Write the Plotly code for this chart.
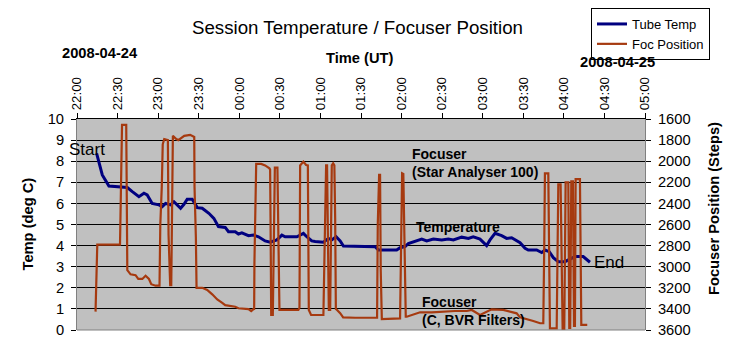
import pandas as pd
import plotly.graph_objects as go

# ---- data ----
session_start = "2008-04-24 22:00"
x_tick_start = "2008-04-24 22:00"
x_tick_end = "2008-04-25 05:00"

# Tube temperature: minutes after 22:00 UT, degrees C
temp_minutes = [14.5, 16.3, 18.7, 23.6, 32.2, 37.2, 40.9, 45.8, 49.5, 51.9, 55.6, 60.6,
                63.0, 65.5, 69.2, 71.7, 76.6, 79.1, 81.5, 85.2, 88.9, 92.6, 97.5, 101.2,
                104.6, 109.6, 112.0, 117.0, 119.4, 121.9, 126.8, 130.5, 134.2, 139.1,
                142.8, 147.8, 151.5, 153.9, 162.6, 167.4, 169.9, 173.6, 176.1, 182.2,
                185.9, 188.4, 191.6, 194.6, 197.0, 209.3, 220.4, 222.9, 236.4, 238.9,
                242.6, 245.0, 250.0, 254.9, 258.6, 263.5, 269.7, 274.6, 278.3, 284.5,
                289.4, 293.0, 298.0, 302.9, 305.4, 309.1, 314.0, 317.7, 321.4, 323.9,
                327.6, 331.3, 333.7, 339.9, 343.6, 346.0, 349.2, 352.2, 355.9, 360.8,
                365.8, 368.2, 374.3, 377.6, 379.3]
temp_values = [8.37, 7.98, 7.35, 6.82, 6.79, 6.75, 6.56, 6.32, 6.48, 6.40, 6.00, 5.93,
               5.85, 6.00, 5.93, 6.08, 5.77, 5.96, 6.20, 6.20, 5.80, 5.77, 5.53, 5.29,
               4.90, 4.86, 4.66, 4.66, 4.55, 4.60, 4.47, 4.50, 4.42, 4.22,
               4.16, 4.27, 4.50, 4.42, 4.42, 4.58, 4.42, 4.22, 4.19, 4.16,
               4.34, 4.27, 4.42, 4.22, 3.98, 3.98, 3.95, 3.79, 3.79, 3.90,
               3.95, 4.10, 4.19, 4.31, 4.22, 4.31, 4.27, 4.31, 4.27, 4.40,
               4.34, 4.42, 4.31, 4.00, 4.27, 4.58, 4.47, 4.34, 4.37, 4.27,
               4.14, 3.87, 3.79, 3.79, 3.67, 3.79, 3.71, 3.43, 3.24, 3.24,
               3.40, 3.48, 3.48, 3.32, 3.21]

# Focuser position: minutes after 22:00 UT, steps
foc_minutes = [13.7, 14.3, 15.0, 31.8, 32.2, 33.3, 36.4, 36.6, 37.2, 39.6, 43.3, 45.3,
               48.3, 50.7, 53.2, 54.9, 58.1, 61.0, 61.6, 62.7, 63.4, 64.5, 67.2, 67.7,
               68.9, 69.7, 70.2, 70.9, 73.4, 74.9, 79.3, 83.7, 86.7, 86.9, 87.9, 88.4,
               92.6, 96.3, 100.0, 103.7, 107.4, 109.6, 117.0, 119.4, 126.8, 128.8, 130.5,
               131.0, 131.2, 131.8, 132.5, 136.2, 139.1, 142.3, 142.8, 143.1, 143.6,
               144.8, 145.8, 146.3, 148.2, 148.7, 149.7, 163.7, 164.5, 165.0, 167.4,
               169.4, 170.7, 171.4, 173.1, 182.2, 183.0, 183.7, 184.2, 184.9, 185.5,
               186.2, 187.2, 187.7, 188.4, 189.4, 190.3, 190.9, 191.4, 192.3, 194.6,
               196.8, 205.6, 221.9, 222.4, 223.4, 224.1, 224.6, 225.4, 238.9, 239.6,
               240.4, 241.3, 242.4, 243.1, 243.8, 248.7, 253.7, 262.3, 269.7, 279.5,
               288.2, 291.9, 298.0, 306.6, 315.2, 321.4, 325.1, 327.6, 332.5, 337.4,
               342.4, 344.8, 345.5, 346.0, 348.5, 349.2, 349.7, 354.7, 355.3, 355.9,
               357.6, 358.4, 359.1, 360.3, 360.8, 361.3, 363.3, 364.0, 364.7, 365.5,
               366.7, 367.5, 368.2, 368.7, 371.9, 372.9, 377.3]
foc_steps = [3426, 3120, 2790, 2790, 2400, 1656, 1656, 2340, 3032, 3072, 3080, 3116,
             3116, 3086, 3116, 3166, 3180, 3180, 2600, 2240, 1840, 1790, 1800, 2700,
             3174, 3174, 2220, 1760, 1790, 1800, 1760, 1750, 1770, 2240, 2720, 3200,
             3200, 3220, 3262, 3310, 3342, 3364, 3380, 3394, 3402, 3420, 3402,
             3400, 2960, 2480, 2026, 2026, 2040, 2068, 2080, 2540, 3458,
             3458, 2540, 2060, 2060, 2540, 3410, 3410, 3390, 2040, 2004,
             2036, 2040, 3410, 3458, 3458, 3000, 2500, 2040, 2040, 2900,
             3410, 3410, 2500, 2040, 2020, 2040, 2540, 3400, 3410, 3440,
             3480, 3484, 3484, 2600, 2130, 2130, 3040, 3496, 3490, 2600,
             2114, 2120, 3040, 3474, 3474, 3452, 3432, 3432, 3426, 3420,
             3420, 3410, 3458, 3404, 3410, 3432, 3442, 3480, 3496, 3514,
             3536, 3536, 2800, 2116, 2116, 2900, 3584, 3584, 2900, 2220,
             2220, 2900, 3600, 3600, 2900, 2200, 2200, 3580, 3580, 2190,
             2190, 3560, 3560, 2170, 2170, 3552, 3552]

temp_ticks = list(range(0, 11))
foc_ticks = list(range(1600, 3601, 200))

# ---- build ----
base = pd.Timestamp(session_start)
temp_time = base + pd.to_timedelta(temp_minutes, unit="min")
foc_time = base + pd.to_timedelta(foc_minutes, unit="min")

FONT = "Liberation Sans, Arial, sans-serif"
BROWN = "#A63A10"
NAVY = "#000080"

fig = go.Figure()
fig.add_trace(go.Scatter(x=temp_time, y=temp_values, name="Tube Temp", mode="lines",
                         line=dict(color=NAVY, width=3), yaxis="y"))
fig.add_trace(go.Scatter(x=foc_time, y=foc_steps, name="Foc Position", mode="lines",
                         line=dict(color=BROWN, width=2.2), yaxis="y2"))

# the page body adds an 8px offset; positions below are page pixels minus that offset
OFF = 8
W, H = 731 - OFF, 356 - OFF
L, R, T, B = 77 - OFF, 645 - OFF, 119 - OFF, 330 - OFF
pw, ph = R - L, B - T


def px(xp):
    return (xp - OFF - L) / pw


def py(yp):
    return (B - (yp - OFF)) / ph


fig.update_layout(
    width=W, height=H,
    margin=dict(l=L, r=W - R, t=T, b=H - B, pad=0, autoexpand=False),
    paper_bgcolor="white", plot_bgcolor="#C0C0C0",
    font=dict(family=FONT, color="black", size=14),
    title=dict(text="Session Temperature / Focuser Position", x=(357.5 - OFF) / W,
               xanchor="center", xref="container", y=1 - (27 - OFF) / H,
               yanchor="middle", yref="container",
               font=dict(size=18.7, color="black")),
    showlegend=True,
    legend=dict(x=(591 - OFF) / W, y=1.0, xref="container", yref="container",
                xanchor="left", yanchor="top",
                bgcolor="white", bordercolor="black", borderwidth=1,
                font=dict(size=13), tracegroupgap=0, itemwidth=30),
    xaxis=dict(type="date", side="top", range=[x_tick_start, x_tick_end],
               dtick=30 * 60 * 1000, tick0=x_tick_start, tickformat="%H:%M",
               tickangle=-90, ticks="outside", ticklen=5, tickcolor="black",
               showgrid=False, showline=True, linecolor="black", linewidth=1,
               zeroline=False, automargin=False, tickfont=dict(size=13.3, color="black")),
    yaxis=dict(range=[0, 10], tickvals=temp_ticks, ticks="outside", ticklen=5,
               tickcolor="black", showgrid=True, gridcolor="black", gridwidth=1,
               showline=True, linecolor="#808080", linewidth=1, zeroline=False,
               automargin=False, tickfont=dict(size=14.7, color="black"),
               ticklabelstandoff=4),
    yaxis2=dict(overlaying="y", side="right", range=[3600, 1600], tickvals=foc_ticks,
                ticks="outside", ticklen=5, tickcolor="black", showgrid=False,
                showline=True, linecolor="#808080", linewidth=1, zeroline=False,
                automargin=False, tickfont=dict(size=14.7, color="black"),
                ticklabelstandoff=4),
)

# plot-area bottom border
fig.add_shape(type="line", xref="paper", yref="paper", x0=0, x1=1, y0=0, y1=0,
              line=dict(color="#808080", width=1))

ann = [
    dict(text="<b>Temp (deg C)</b>", x=px(27), y=0.5, textangle=-90, font=dict(size=14.7)),
    dict(text="<b>Focuser Position (Steps)</b>", x=px(714), y=py(208), textangle=-90,
         font=dict(size=14.7)),
    dict(text="<b>2008-04-24</b>", x=px(100), y=py(53), font=dict(size=14.7)),
    dict(text="<b>Time (UT)</b>", x=px(360), y=py(58), font=dict(size=14.7)),
    dict(text="<b>2008-04-25</b>", x=px(617), y=py(62), font=dict(size=14.7)),
]
for a in ann:
    fig.add_annotation(xref="paper", yref="paper", xanchor="center", yanchor="middle",
                       showarrow=False, **a)

inner = [
    dict(text="Start", x=px(67), y=py(149), font=dict(size=17)),
    dict(text="End", x=px(592), y=py(262), font=dict(size=17)),
    dict(text="<b>Focuser<br>(Star Analyser 100)</b>", x=px(410), y=py(162.5),
         font=dict(size=14)),
    dict(text="<b>Temperature</b>", x=px(414), y=py(227.3), font=dict(size=14)),
    dict(text="<b>Focuser<br>(C, BVR Filters)</b>", x=px(420), y=py(311.2),
         font=dict(size=14)),
]
for a in inner:
    fig.add_annotation(xref="paper", yref="paper", xanchor="left", yanchor="middle",
                       align="left", showarrow=False, **a)

fig.write_html("out.html")
